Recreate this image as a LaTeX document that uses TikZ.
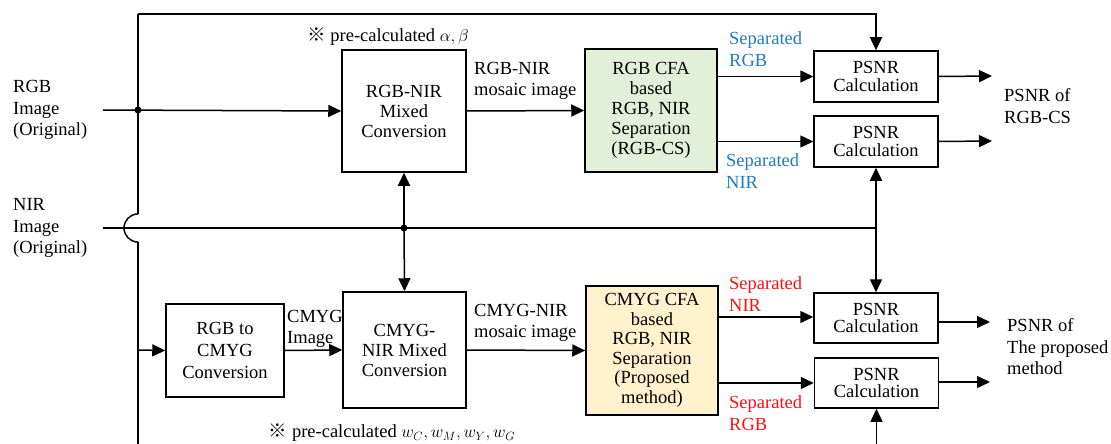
\documentclass[tikz,border=0pt]{standalone}
\usepackage{fontspec}
\setmainfont{Liberation Serif}
\newfontfamily\cjk{Noto Sans CJK JP}
\usetikzlibrary{arrows.meta}
\definecolor{sepblue}{HTML}{1F7BC6}
\definecolor{sepred}{HTML}{FF1010}
\definecolor{boxgreen}{HTML}{E2EFD9}
\definecolor{boxyellow}{HTML}{FFF2CC}
\tikzset{
  blk/.style={draw, line width=1.5pt, align=center, inner sep=0pt, font=\fontsize{18.5}{20}\selectfont},
  psnr/.style={blk, minimum width=124pt, minimum height=51pt, font=\fontsize{18.5}{17.5}\selectfont},
  lbl/.style={inner sep=0pt, align=left, anchor=west},
  ln/.style={line width=1.5pt},
  arr/.style={ln, -{Triangle[length=13pt,width=12pt]}},
  dot/.style={circle, fill=black, inner sep=0pt, minimum size=7pt}
}
\begin{document}
\begin{tikzpicture}[x=1pt,y=-1pt, font=\fontsize{18.5}{21.5}\selectfont]
\useasboundingbox (0,0) rectangle (1111,444);

% blocks
\node[blk, minimum width=124pt, minimum height=122pt] (mix1) at (404,111) {RGB-NIR\\Mixed\\Conversion};
\node[blk, fill=boxgreen, minimum width=132pt, minimum height=123pt] (sep1) at (651,110.5) {RGB CFA\\based\\RGB, NIR\\Separation\\(RGB-CS)};
\node[psnr] (p1) at (876,76.5) {PSNR\\Calculation};
\node[psnr] (p2) at (876,141.5) {PSNR\\Calculation};
\node[blk, minimum width=118pt, minimum height=93pt, font=\fontsize{18.5}{22}\selectfont] (conv) at (225,350.5) {RGB to\\CMYG\\Conversion};
\node[blk, minimum width=123pt, minimum height=116pt] (mix2) at (404.5,350) {CMYG-\\NIR Mixed\\Conversion};
\node[blk, fill=boxyellow, minimum width=132pt, minimum height=129pt, font=\fontsize{18.5}{19.5}\selectfont] (sep2) at (652,350.5) {CMYG CFA\\based\\RGB, NIR\\Separation\\(Proposed\\method)};
\node[psnr, minimum height=50pt] (p3) at (876,318) {PSNR\\Calculation};
\node[psnr, minimum height=50pt] (p4) at (876.5,383) {PSNR\\Calculation};

% labels
\node[lbl] (rgbin) at (13,110) {RGB\\Image\\(Original)};
\node[lbl] (nirin) at (13,228) {NIR\\Image\\(Original)};
\node[inner sep=0pt] (pre1) at (388,37) {{\cjk ※} pre-calculated $\alpha,\beta$};
\node[lbl] (mos1) at (474,81) {RGB-NIR\\mosaic image};
\node[lbl, text=sepblue] (srgb1) at (729,49) {Separated\\RGB};
\node[lbl, text=sepblue] (snir1) at (726,171) {Separated\\NIR};
\node[lbl] (out1) at (1004,106) {PSNR of\\RGB-CS};
\node[lbl] (cmyimg) at (287,329) {CMYG\\Image};
\node[lbl] (mos2) at (474,323) {CMYG-NIR\\mosaic image};
\node[inner sep=0pt] (pre2) at (392,433) {{\cjk ※} pre-calculated $w_C,w_M,w_Y,w_G$};
\node[lbl, text=sepred] (snir2) at (729,294) {Separated\\NIR};
\node[lbl, text=sepred] (srgb2) at (729,413) {Separated\\RGB};
\node[lbl] (out2) at (1007,347) {PSNR of\\The proposed\\method};

% coordinates
\coordinate (rgbs) at (103,110);
\coordinate (nirs) at (103,228);
\coordinate (vtop) at (138,14);
\coordinate (vj1) at (138,214);
\coordinate (vj2) at (138,242);
\coordinate (vbot) at (138,444);
\coordinate (rj) at (138,110);
\coordinate (nj) at (404,228);
\coordinate (nr) at (876,228);
\coordinate (cj) at (138,350);
\coordinate (o1) at (992,76);
\coordinate (o2) at (992,141);
\coordinate (o3) at (990,322);
\coordinate (o4) at (990,382);
\coordinate (pbot) at (876.5,444);

% left bus with jump
\draw[ln] (vj1) -- (vtop);
\draw[arr] (vtop) -| (p1.north);
\draw[ln] (vj1) arc[start angle=90, end angle=270, radius=14pt];
\draw[ln] (vj2) -- (vbot);
\draw[arr] (cj) -- (conv.west);

% RGB input
\draw[arr] (rgbs) -- (mix1.west);
\node[dot] at (rj) {};

% NIR line
\draw[ln] (nirs) -- (nr);
\node[dot] at (nj) {};
\draw[arr] (nj) -- (mix1.south);
\draw[arr] (nj) -- (mix2.north);
\draw[arr] (nr) -- (p2.south);
\draw[arr] (nr) -- (p3.north);
\draw[arr] (pbot) -- (p4.south);

% top chain
\draw[arr] (mix1.east) -- (sep1.west);
\draw[arr] (sep1.east |- p1.west) -- (p1.west);
\draw[arr] (sep1.east |- p2.west) -- (p2.west);
\draw[arr] (p1.east) -- (o1);
\draw[arr] (p2.east) -- (o2);

% bottom chain
\draw[arr] (conv.east) -- (mix2.west);
\draw[arr] (mix2.east) -- (sep2.west);
\draw[arr] (sep2.east |- 0,317) -- (p3.west |- 0,317);
\draw[arr] (sep2.east |- 0,383) -- (p4.west |- 0,383);
\draw[arr] (p3.east |- o3) -- (o3);
\draw[arr] (p4.east |- o4) -- (o4);
\end{tikzpicture}
\end{document}
